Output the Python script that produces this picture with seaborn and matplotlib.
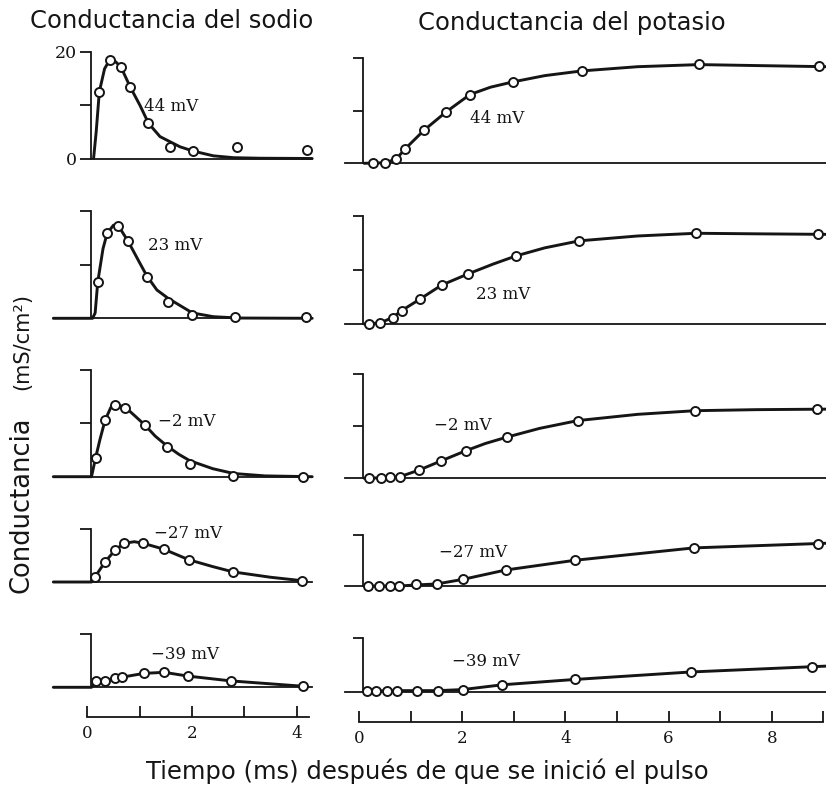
import matplotlib
matplotlib.use('Agg')
import matplotlib.pyplot as plt
import seaborn as sns

# ---------------- data ----------------
voltages = ['44 mV', '23 mV', '\u22122 mV', '\u221227 mV', '\u221239 mV']
col_titles = ['Conductancia del sodio', 'Conductancia del potasio']
x_label = 'Tiempo (ms) después de que se inició el pulso'
y_label_main = 'Conductancia'
y_label_unit = '(mS/cm\u00b2)'
na_tick_labels = ['0', '', '2', '', '4']
k_tick_labels = ['0', '', '2', '', '4', '', '6', '', '8', '']

# Sodium conductance – measured points
na44_t = [0.23, 0.43, 0.64, 0.82, 1.17, 1.58, 2.02, 2.86, 4.21]
na44_g = [12.5, 18.4, 17.2, 13.4, 6.6, 2.2, 1.4, 2.1, 1.5]
na23_t = [0.20, 0.38, 0.59, 0.78, 1.14, 1.55, 2.01, 2.83, 4.19]
na23_g = [6.8, 15.9, 17.3, 14.4, 7.8, 3.1, 0.6, 0.3, 0.2]
nam2_t = [0.16, 0.34, 0.53, 0.73, 1.10, 1.52, 1.96, 2.79, 4.13]
nam2_g = [3.6, 10.6, 13.5, 12.9, 9.7, 5.6, 2.4, 0.1, 0.0]
nam27_t = [0.15, 0.34, 0.53, 0.70, 1.07, 1.46, 1.94, 2.79, 4.10]
nam27_g = [1.0, 3.8, 6.0, 7.3, 7.3, 6.2, 4.2, 1.9, 0.2]
nam39_t = [0.17, 0.34, 0.53, 0.67, 1.08, 1.47, 1.92, 2.74, 4.12]
nam39_g = [1.1, 1.2, 1.7, 1.9, 2.6, 2.8, 2.1, 1.2, 0.2]

# Sodium conductance – fitted curves
na44_ct = [0.12, 0.17, 0.23, 0.33, 0.43, 0.52, 0.64, 0.82, 1.01, 1.17, 1.39, 1.77, 2.02, 2.41, 2.8, 3.3, 4.3]
na44_cg = [0.0, 5.0, 12.5, 16.8, 18.5, 18.3, 17.2, 13.4, 9.9, 6.6, 4.1, 2.2, 1.4, 0.5, 0.15, 0.05, 0.0]
na23_ct = [-0.65, 0.10, 0.15, 0.20, 0.30, 0.38, 0.50, 0.60, 0.78, 1.00, 1.14, 1.33, 1.55, 2.01, 2.41, 2.90, 4.3]
na23_cg = [0.0, 0.0, 1.0, 6.8, 13.0, 15.9, 17.4, 17.2, 14.4, 10.4, 7.9, 5.3, 3.7, 1.0, 0.3, 0.05, 0.0]
nam2_ct = [-0.65, 0.08, 0.16, 0.24, 0.34, 0.45, 0.53, 0.73, 0.90, 1.10, 1.30, 1.52, 1.75, 1.96, 2.40, 2.80, 3.40, 4.3]
nam2_cg = [0.0, 0.0, 3.6, 6.9, 10.6, 13.0, 13.6, 13.0, 11.5, 9.7, 7.6, 5.8, 4.2, 3.0, 1.5, 0.6, 0.15, 0.0]
nam27_ct = [-0.65, 0.08, 0.15, 0.34, 0.53, 0.70, 0.90, 1.07, 1.46, 1.94, 2.40, 2.79, 3.50, 4.15]
nam27_cg = [0.0, 0.0, 1.0, 3.8, 6.0, 7.3, 7.6, 7.3, 6.2, 4.2, 2.9, 1.9, 0.9, 0.2]
nam39_ct = [-0.65, 0.08, 0.17, 0.34, 0.53, 0.67, 1.08, 1.47, 1.92, 2.74, 4.12]
nam39_cg = [0.0, 0.0, 1.1, 1.2, 1.7, 1.9, 2.6, 2.8, 2.1, 1.2, 0.2]

# Potassium conductance – measured points
k44_t = [0.28, 0.50, 0.72, 0.89, 1.26, 1.69, 2.15, 2.98, 4.32, 6.59, 8.91]
k44_g = [0.0, 0.0, 0.8, 2.7, 6.3, 9.8, 13.1, 15.5, 17.6, 18.9, 18.5]
k23_t = [0.20, 0.41, 0.65, 0.83, 1.18, 1.60, 2.12, 3.04, 4.27, 6.53, 8.90]
k23_g = [0.0, 0.2, 1.2, 2.5, 4.6, 7.2, 9.3, 12.6, 15.4, 16.8, 16.6]
km2_t = [0.20, 0.42, 0.61, 0.79, 1.17, 1.58, 2.07, 2.86, 4.24, 6.51, 8.87]
km2_g = [0.0, 0.1, 0.2, 0.3, 1.6, 3.3, 5.3, 7.9, 11.1, 13.0, 13.3]
km27_t = [0.18, 0.39, 0.60, 0.78, 1.10, 1.51, 2.02, 2.84, 4.19, 6.49, 8.90]
km27_g = [0.0, 0.0, 0.0, 0.0, 0.3, 0.3, 1.3, 3.1, 5.0, 7.4, 8.2]
km39_t = [0.15, 0.33, 0.54, 0.74, 1.12, 1.54, 2.01, 2.78, 4.19, 6.43, 8.77]
km39_g = [0.2, 0.2, 0.2, 0.2, 0.2, 0.2, 0.4, 1.3, 2.3, 3.7, 4.7]

# Potassium conductance – fitted curves
k44_ct = [0.10, 0.50, 0.72, 0.89, 1.26, 1.69, 2.15, 2.55, 2.98, 3.60, 4.32, 5.40, 6.59, 7.80, 9.05]
k44_cg = [0.0, 0.1, 0.8, 2.7, 6.3, 9.8, 13.1, 14.5, 15.5, 16.7, 17.6, 18.4, 18.8, 18.6, 18.4]
k23_ct = [0.10, 0.41, 0.65, 0.83, 1.18, 1.60, 2.12, 2.60, 3.04, 3.60, 4.27, 5.40, 6.53, 7.70, 9.05]
k23_cg = [0.0, 0.2, 1.2, 2.5, 4.6, 7.2, 9.3, 11.1, 12.6, 14.1, 15.4, 16.3, 16.8, 16.7, 16.6]
km2_ct = [0.10, 0.42, 0.61, 0.79, 1.17, 1.58, 2.07, 2.45, 2.86, 3.50, 4.24, 5.40, 6.51, 7.70, 9.05]
km2_cg = [0.0, 0.1, 0.2, 0.3, 1.6, 3.3, 5.3, 6.7, 7.9, 9.6, 11.1, 12.3, 13.0, 13.2, 13.3]
km27_ct = [0.10, 0.78, 1.10, 1.51, 2.02, 2.84, 4.19, 6.49, 9.05]
km27_cg = [0.0, 0.0, 0.2, 0.4, 1.3, 3.1, 5.0, 7.4, 8.3]
km39_ct = [0.10, 0.74, 1.12, 1.54, 2.01, 2.78, 4.19, 6.43, 9.05]
km39_cg = [0.1, 0.2, 0.2, 0.2, 0.4, 1.3, 2.3, 3.7, 4.8]

# label anchor positions (time, conductance)
na_lab_t = [1.61, 1.68, 1.90, 1.93, 1.87]
na_lab_g = [9.7, 13.7, 10.3, 9.2, 6.1]
k_lab_t = [2.67, 2.80, 2.02, 2.22, 2.47]
k_lab_g = [8.6, 5.4, 10.2, 6.6, 5.6]

na_pts = [(na44_t, na44_g), (na23_t, na23_g), (nam2_t, nam2_g), (nam27_t, nam27_g), (nam39_t, nam39_g)]
na_crv = [(na44_ct, na44_cg), (na23_ct, na23_cg), (nam2_ct, nam2_cg), (nam27_ct, nam27_cg), (nam39_ct, nam39_cg)]
k_pts = [(k44_t, k44_g), (k23_t, k23_g), (km2_t, km2_g), (km27_t, km27_g), (km39_t, km39_g)]
k_crv = [(k44_ct, k44_cg), (k23_ct, k23_cg), (km2_ct, km2_cg), (km27_ct, km27_cg), (km39_ct, km39_cg)]

# ---------------- layout ----------------
sns.set_style('white')
plt.rcParams['font.family'] = ['DejaVu Sans']
INK = '#151515'
W, H = 826, 789
fig = plt.figure(figsize=(W / 100, H / 100), dpi=100)


def rect(x0, x1, ytop, ybot):
    return [x0 / W, 1 - ybot / H, (x1 - x0) / W, (ybot - ytop) / H]


cols = [
    dict(px0=87.3, ppm=52.3, xlim=(-0.7, 4.5), base=[158.5, 318.3, 476.7, 582.0, 687.3],
         scale=[5.34, 5.35, 5.33, 5.3, 5.35], pts=na_pts, crv=na_crv,
         lt=na_lab_t, lg=na_lab_g, bl=(0.08, 4.3), axis_y=717, tmax=4.24,
         ticks=na_tick_labels, tick_len=8),
    dict(px0=359.0, ppm=51.6, xlim=(-0.35, 9.05), base=[163.3, 324.0, 478.3, 586.0, 691.7],
         scale=[5.25, 5.4, 5.2, 5.15, 5.33], pts=k_pts, crv=k_crv,
         lt=k_lab_t, lg=k_lab_g, bl=(-0.27, 9.05), axis_y=722, tmax=9.0,
         ticks=k_tick_labels, tick_len=7),
]

YLO, YHI = -1.5, 21.5
for ci, c in enumerate(cols):
    x0 = c['px0'] + c['ppm'] * c['xlim'][0]
    x1 = c['px0'] + c['ppm'] * c['xlim'][1]
    for r in range(5):
        b, s = c['base'][r], c['scale'][r]
        ax = fig.add_axes(rect(x0, x1, b - YHI * s, b - YLO * s))
        ax.patch.set_alpha(0)
        ct, cg = c['crv'][r]
        pt, pg = c['pts'][r]
        sns.lineplot(x=ct, y=cg, ax=ax, color=INK, linewidth=2.1,
                     sort=False, estimator=None, zorder=2)
        sns.scatterplot(x=pt, y=pg, ax=ax, s=42, color='white',
                        edgecolor=INK, linewidth=1.4, zorder=3)
        ax.set_xlim(*c['xlim'])
        ax.set_ylim(YLO, YHI)
        ax.set_xlabel('')
        ax.set_ylabel('')
        for sp in ('top', 'right'):
            ax.spines[sp].set_visible(False)
        top = 20 if r < 3 else 10
        ax.spines['left'].set_position(('data', 0.08))
        ax.spines['left'].set_bounds(0, top)
        ax.spines['left'].set_linewidth(1.3)
        ax.spines['left'].set_color(INK)
        ax.spines['bottom'].set_position(('data', 0))
        ax.spines['bottom'].set_bounds(*c['bl'])
        ax.spines['bottom'].set_linewidth(1.3)
        ax.spines['bottom'].set_color(INK)
        ax.set_xticks([])
        if ci == 0 and r == 0:
            ax.set_yticks([0, 10, 20])
            ax.set_yticklabels(['0', '', '20'], family='DejaVu Serif', fontsize=12.5)
        else:
            ax.set_yticks([10, 20] if r < 3 else [10])
            ax.set_yticklabels([])
        ax.tick_params(axis='y', left=True, direction='out', length=c['tick_len'], width=1.3,
                       color=INK, pad=2.5, labelcolor=INK)
        ax.text(c['lt'][r], c['lg'][r], voltages[r], ha='center', va='center',
                family='DejaVu Serif', fontsize=12, color=INK)

    # time axis
    ay = c['axis_y']
    tax = fig.add_axes(rect(x0, x1, ay - 20, ay))
    tax.patch.set_alpha(0)
    tax.set_xlim(*c['xlim'])
    tax.set_ylim(0, 1)
    for sp in ('top', 'right', 'left'):
        tax.spines[sp].set_visible(False)
    tax.spines['bottom'].set_bounds(0, c['tmax'])
    tax.spines['bottom'].set_linewidth(1.3)
    tax.spines['bottom'].set_color(INK)
    tax.set_yticks([])
    tax.set_xticks(list(range(len(c['ticks']))))
    tax.set_xticklabels(c['ticks'], family='DejaVu Serif', fontsize=12, color=INK)
    tax.tick_params(axis='x', bottom=True, direction='in', length=8, width=1.3, color=INK, pad=6)

# titles and labels
fig.text(172 / W, 1 - 28.5 / H, col_titles[0], ha='center', va='baseline', fontsize=17.5, color=INK)
fig.text(572 / W, 1 - 30 / H, col_titles[1], ha='center', va='baseline', fontsize=17.5, color=INK)
fig.text(427 / W, 1 - 779 / H, x_label, ha='center', va='baseline', fontsize=17.5, color=INK)
fig.text(22 / W, 1 - 505 / H, y_label_main, rotation=90, ha='center', va='center', fontsize=18.5, color=INK)
fig.text(22 / W, 1 - 341 / H, y_label_unit, rotation=90, ha='center', va='center', fontsize=15, color=INK)

fig.savefig('out.png', dpi=100, facecolor='white')
